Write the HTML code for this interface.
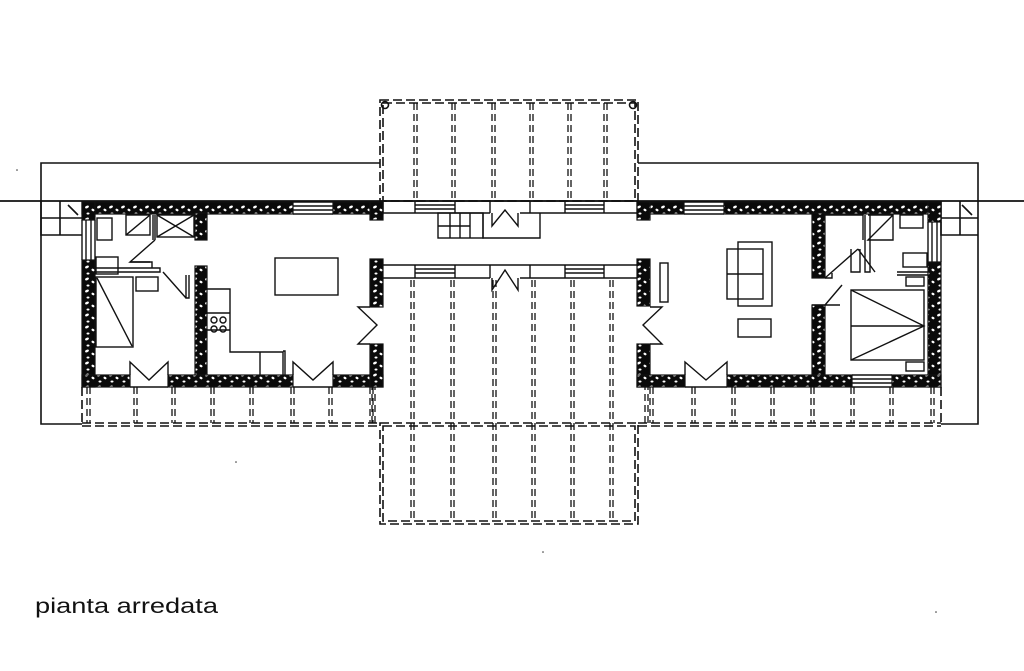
<!DOCTYPE html>
<html><head><meta charset="utf-8"><style>
html,body{margin:0;padding:0;background:#fff;}
svg{display:block;}
</style></head><body>
<svg width="1024" height="671" viewBox="0 0 1024 671" xmlns="http://www.w3.org/2000/svg">
<defs>
<pattern id="st" width="12" height="12" patternUnits="userSpaceOnUse">
<rect width="12" height="12" fill="#0a0a0a"/>
<ellipse cx="3" cy="3" rx="2" ry="1.2" fill="#fff" transform="rotate(-25 3 3)"/>
<ellipse cx="9" cy="6" rx="1.6" ry="1.1" fill="#fff" transform="rotate(30 9 6)"/>
<ellipse cx="4" cy="9.5" rx="1.5" ry="1" fill="#fff"/>
</pattern>
</defs>
<g fill="none" stroke="#111" stroke-width="1.6">
<polyline points="380,163 41,163 41,424 82,424"/>
<polyline points="638,163 978,163 978,424 941,424"/>
<line x1="0" y1="201" x2="1024" y2="201" stroke-width="1.8"/>
<g stroke-dasharray="9,4">
<rect x="380" y="100" width="258" height="101"/>
<rect x="383" y="103" width="252" height="98"/>
<rect x="380" y="423" width="258" height="101"/>
<rect x="383" y="426" width="252" height="95"/>
<line x1="82" y1="423" x2="380" y2="423"/><line x1="82" y1="426" x2="380" y2="426"/>
<line x1="638" y1="423" x2="941" y2="423"/><line x1="638" y1="426" x2="941" y2="426"/>
<line x1="82" y1="387" x2="82" y2="423"/><line x1="941" y1="387" x2="941" y2="423"/>
</g>
<g stroke-dasharray="7,4" stroke-width="1.3">
<path d="M414,103V201M417,103V201M452,103V201M455,103V201M492,103V201M495,103V201M530,103V201M533,103V201M568,103V201M571,103V201M604,103V201M607,103V201"/>
<path d="M411,280V521M414,280V521M451,280V521M454,280V521M493,280V521M496,280V521M532,280V521M535,280V521M571,280V521M574,280V521M610,280V521M613,280V521"/>
<path d="M87,387V423M90,387V423M134,387V423M137,387V423M172,387V423M175,387V423M211,387V423M214,387V423M250,387V423M253,387V423M291,387V423M294,387V423M329,387V423M332,387V423M370,387V423M373,387V423M372,350V423M375,350V423"/>
<path d="M650,387V423M653,387V423M692,387V423M695,387V423M732,387V423M735,387V423M771,387V423M774,387V423M811,387V423M814,387V423M851,387V423M854,387V423M890,387V423M893,387V423M931,387V423M934,387V423M645,350V423M648,350V423"/>
</g>
<circle cx="385" cy="105" r="3.5"/><circle cx="633" cy="105" r="3.5"/>
<path d="M41,201V235H82M60,201V235M41,218H82M68,205L78,215"/>
<path d="M941,201V235H978M960,201V235M941,218H978M962,205L972,215"/>
</g>
<g fill="url(#st)" stroke="#111" stroke-width="1.2">
<rect x="82" y="202" width="211" height="12"/>
<rect x="333" y="202" width="50" height="12"/>
<rect x="370" y="202" width="13" height="18"/>
<rect x="82" y="202" width="13" height="18"/>
<rect x="82" y="260" width="13" height="127"/>
<rect x="195" y="213" width="12" height="27"/>
<rect x="195" y="266" width="12" height="109"/>
<rect x="82" y="375" width="48" height="12"/>
<rect x="168" y="375" width="125" height="12"/>
<rect x="333" y="375" width="50" height="12"/>
<rect x="370" y="259" width="13" height="48"/>
<rect x="370" y="344" width="13" height="43"/>
<rect x="637" y="202" width="47" height="12"/>
<rect x="637" y="202" width="13" height="18"/>
<rect x="724" y="202" width="217" height="12"/>
<rect x="928" y="202" width="13" height="20"/>
<rect x="928" y="262" width="13" height="125"/>
<rect x="812" y="213" width="13" height="65"/>
<rect x="812" y="305" width="13" height="70"/>
<rect x="637" y="259" width="13" height="47"/>
<rect x="637" y="344" width="13" height="43"/>
<rect x="637" y="375" width="48" height="12"/>
<rect x="727" y="375" width="125" height="12"/>
<rect x="892" y="375" width="49" height="12"/>
</g>
<g fill="none" stroke="#111" stroke-width="1.4">
<path d="M293,202H333M293,206H333M293,210H333M293,214H333"/>
<path d="M684,202H724M684,206H724M684,210H724M684,214H724"/>
<path d="M852,375H892M852,379H892M852,383H892M852,387H892"/>
<path d="M82,220V260M86,220V260M91,220V260M95,220V260"/>
<path d="M928,222V262M932,222V262M937,222V262M941,222V262"/>
<path d="M383,201H637M383,213H490M520,213H637"/>
<path d="M383,201V213M415,201V213M455,201V213M490,201V213M530,201V213M565,201V213M604,201V213"/>
<path d="M415,205H455M415,209H455M565,205H604M565,209H604"/>
<path d="M492,213V226L505,210L518,226V213"/>
<rect x="438" y="213" width="45" height="25"/><path d="M438,226H470M450,213V238M460,213V238M470,213V238M483,213V238H540V213"/>
<path d="M383,265H637M383,278H490M520,278H637"/>
<path d="M415,265V278M455,265V278M490,265V278M530,265V278M565,265V278M604,265V278"/>
<path d="M415,269H455M415,273H455M565,269H604M565,273H604"/>
<path d="M492,278V290L505,270L518,290V278"/>
<path d="M130,375V362L149,380L168,362V375M130,387H168"/>
<path d="M293,375V362L313,380L333,362V375M293,387H333"/>
<path d="M370,307H358L377,325L358,344H370"/>
<path d="M685,375V362L706,380L727,362V375M685,387H727"/>
<path d="M650,307H662L643,325L662,344H650"/>
<rect x="275" y="258" width="63" height="37"/>
<rect x="96" y="277" width="37" height="70"/><line x1="97" y1="278" x2="132" y2="346"/>
<rect x="96" y="257" width="22" height="17"/>
<rect x="97" y="218" width="15" height="22"/>
<rect x="126" y="215" width="24" height="20"/><path d="M126,235L150,215"/>
<rect x="157" y="215" width="37" height="22"/><path d="M157,215L194,237M157,237L194,215"/>
<path d="M153,215V240M155,215V240"/>
<path d="M155,240L130,262H150"/>
<path d="M95,268H160V272H95M130,262H152V268"/>
<rect x="136" y="277" width="22" height="14"/>
<path d="M163,272L186,298M186,275V298H189V275"/>
<path d="M207,289H230V352H245M230,313H207M207,330H230M245,352H283V375M260,352V375M283,351H285V375"/>
<circle cx="214" cy="320" r="3"/><circle cx="223" cy="320" r="3"/><circle cx="214" cy="329" r="3"/><circle cx="223" cy="329" r="3"/>
<rect x="738" y="242" width="34" height="64"/>
<rect x="727" y="249" width="36" height="50"/><line x1="727" y1="274" x2="763" y2="274"/>
<rect x="738" y="319" width="33" height="18"/>
<rect x="660" y="263" width="8" height="39"/>
<rect x="851" y="290" width="73" height="70"/><path d="M851,290L924,326L851,360M851,326H924"/>
<rect x="906" y="362" width="18" height="9"/>
<path d="M825,215H863V240M865,215V272H870V215"/>
<path d="M868,215H893V240H868L893,215"/>
<rect x="900" y="215" width="23" height="13"/>
<rect x="903" y="253" width="24" height="14"/>
<rect x="906" y="277" width="18" height="9"/>
<path d="M851,249V272H860V249M858,249L875,272M825,278H832V273"/>
<path d="M897,272H928M897,275H928"/>
<path d="M825,278L858,249M825,305L842,285M812,305H840"/>
</g>
<g fill="#333">
<circle cx="17" cy="170" r="0.8"/><circle cx="236" cy="462" r="0.8"/><circle cx="543" cy="552" r="0.8"/><circle cx="936" cy="612" r="0.8"/>
</g>
<text x="35" y="613" font-family="Liberation Sans, Arial, sans-serif" font-size="21" fill="#111" textLength="183" lengthAdjust="spacingAndGlyphs">pianta arredata</text>
</svg>
</body></html>
